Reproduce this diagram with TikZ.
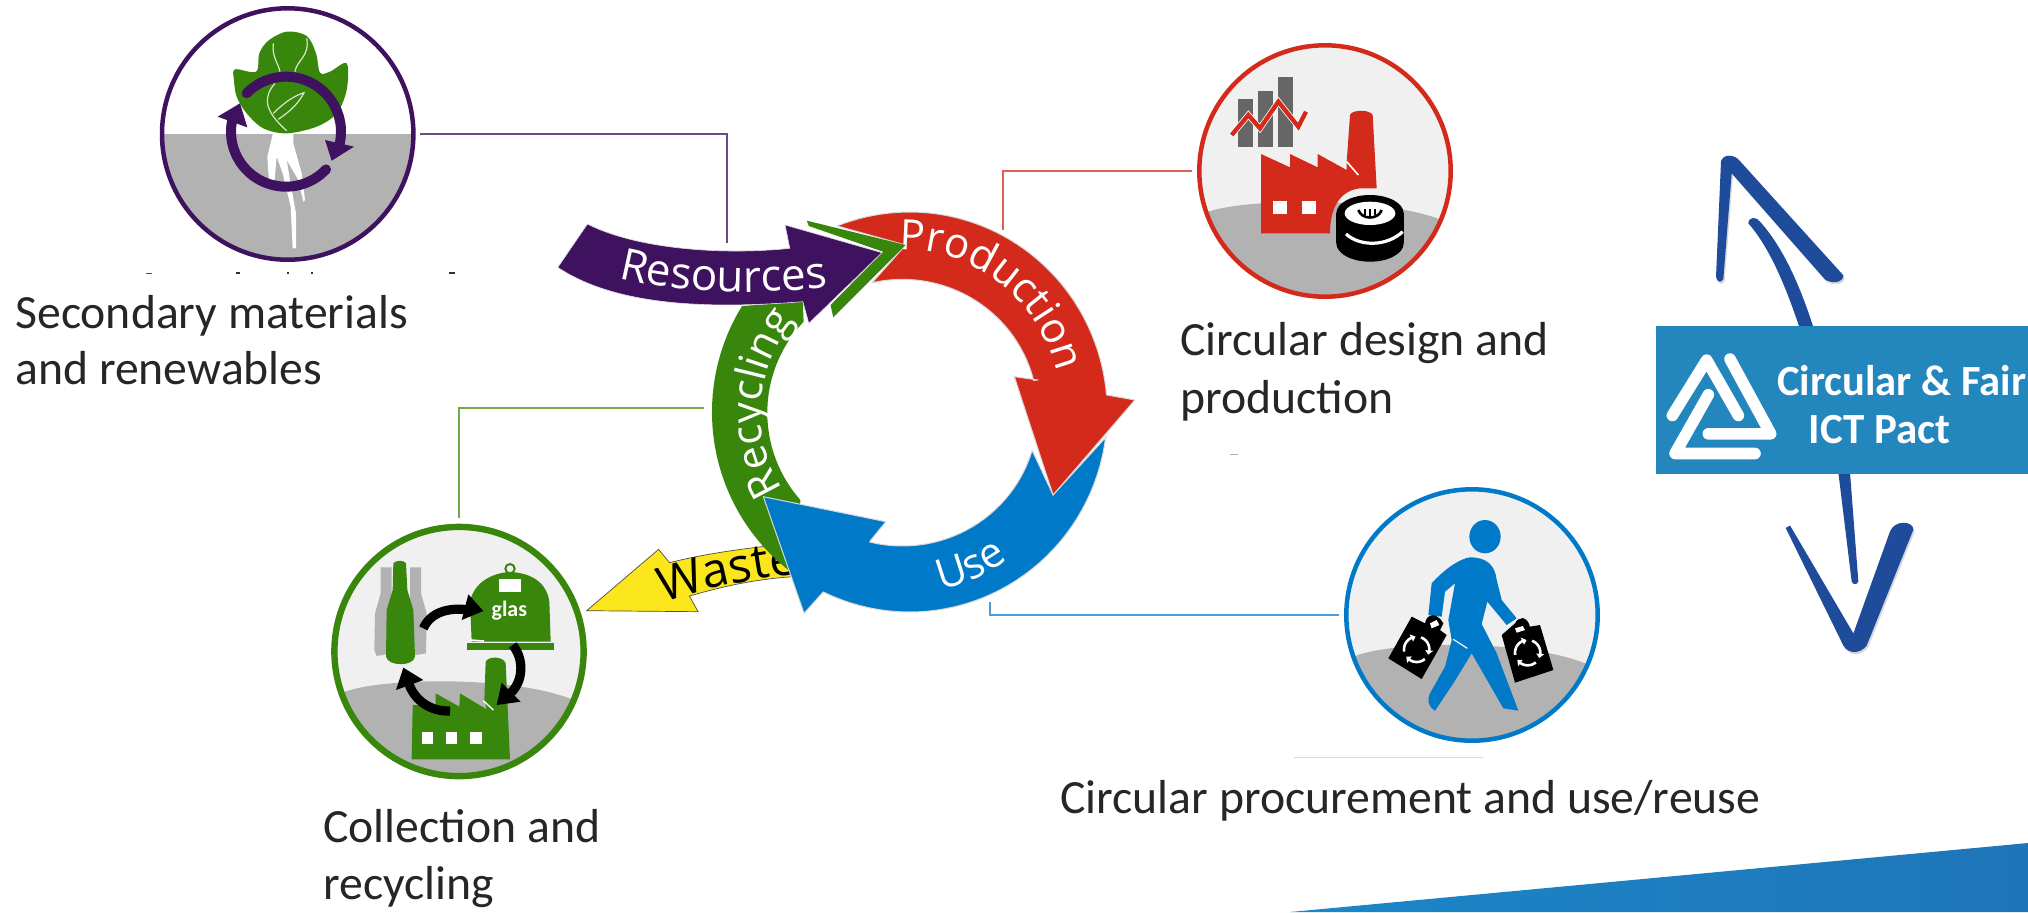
\documentclass[tikz,border=0pt]{standalone}
\usepackage{fontspec}
\usepackage{graphicx}
\setmainfont{Carlito}
\newfontfamily\ringfont{Open Sans}
\usetikzlibrary{decorations.text}
\definecolor{cpurple}{HTML}{3F1260}
\definecolor{cred}{HTML}{D42A1C}
\definecolor{cgreen}{HTML}{38860B}
\definecolor{cblue}{HTML}{0079C8}
\definecolor{cyellow}{HTML}{FBE61C}
\definecolor{lpurple}{HTML}{6B4A8A}
\definecolor{lred}{HTML}{E0604F}
\definecolor{lgreen}{HTML}{6FAA4A}
\definecolor{lblue}{HTML}{4F9BD8}
\definecolor{soil}{HTML}{B2B2B2}
\definecolor{sky}{HTML}{F0F0F0}
\definecolor{bars}{HTML}{666666}
\definecolor{banner}{HTML}{2386BD}
\definecolor{navy}{HTML}{1E4C9A}
\definecolor{swooshl}{HTML}{1A87C8}
\definecolor{swooshr}{HTML}{1F75B8}
\newcommand\ringlabel{\fontsize{21}{21}\ringfont\color{white}}
\newcommand\ringlabelbig{\fontsize{22}{22}\ringfont\color{white}}
\newcommand\wastelabel{\fontsize{24}{24}\ringfont\color{black}}
\tikzset{
  thrice/.style={x=.16667pt,y=-.16667pt},
  ringzoom/.style={x=.19763pt,y=-.16667pt},
  bannerzoom/.style={x=.16667pt,y=-.17301pt},
  iconring/.style={circle,draw=#1,line width=2.25pt,minimum size=125.7pt,inner sep=0pt,outer sep=0pt},
  conn/.style={draw=#1,line width=1.2pt},
  caption/.style={anchor=base west,inner sep=0pt,font=\fontsize{23.85}{23.85}\selectfont,text=black!85},
  thickarc/.style={line width=#1,line cap=round},
  edge/.style={draw=white!85!black,line width=.5pt,line join=round},
  logostroke/.style={white,line width=5.8pt,line cap=round,line join=round},
}
\begin{document}
\begin{tikzpicture}[x=.5pt,y=-.5pt]
\useasboundingbox (0,0) rectangle (2028,912);
\fill[white] (0,0) rectangle (2028,912);

% swoosh
\shade[left color=swooshl,right color=swooshr] (1290,912) -- (2028,843) -- (2028,912) -- cycle;

% ---------- purple icon
\fill[white] (287.7,134) circle[radius=125];
\begin{scope}
\clip (287.7,134) circle[radius=125];
\fill[soil] (130,134) rectangle (450,270);
\end{scope}
\begin{scope}[shift={(130,0)},thrice]
 \fill[white] (430,395) -- (412,470) -- (418,560) -- (432,560) -- (440,470) -- (458,520) -- (482,620) -- (488,745) -- (498,745) -- (498,640) -- (480,540) -- (470,480) -- (505,540) -- (520,605) -- (525,600) -- (515,520) -- (490,430) -- (490,395) -- cycle;
 \fill[cgreen] plot[smooth cycle,tension=.55] coordinates {(315,208) (378,215) (388,160) (415,122) (470,95) (530,108) (558,160) (570,218) (600,215) (650,190) (650,270) (620,340) (560,380) (470,400) (400,385) (350,340) (320,290) (312,240)};
 \draw[white!80!cgreen,line width=.6pt] (430,130) .. controls (425,170) and (445,190) .. (450,215);
 \draw[white!80!cgreen,line width=.6pt] (530,115) .. controls (540,170) and (500,180) .. (495,215);
 \draw[white!80!cgreen,line width=.6pt] (435,250) .. controls (400,290) and (400,330) .. (470,392);
 \draw[white!80!cgreen,line width=.6pt] (430,340) .. controls (470,300) and (500,285) .. (522,278) .. controls (500,320) and (470,340) .. (445,358);
 \draw[cpurple,thickarc=5pt] plot[domain=-135.7:14,samples=40] ({468+165*cos(\x)},{395+165*sin(\x)});
 \draw[cpurple,thickarc=5pt] plot[domain=43.3:196,samples=40] ({468+165*cos(\x)},{395+165*sin(\x)});
 \fill[cpurple] (672,440) -- (605,482) -- (585,420) -- cycle;
 \fill[cpurple] (263,350) -- (330,310) -- (352,382) -- cycle;
\end{scope}
\node[iconring=cpurple] (secondary) at (287.7,134) {};

% ---------- red icon
\begin{scope}
\clip (1325,171) circle[radius=125];
\fill[sky] (1325,171) circle[radius=125];
\begin{scope}[shift={(1180,30)},thrice]
 \fill[soil] (0,900) -- (0,600) -- (85,545) .. controls (200,505) and (600,500) .. (780,568) -- (900,620) -- (900,900) -- cycle;
 \fill[bars] (175,208) rectangle (218,350);
 \fill[bars] (235,183) rectangle (280,350);
 \fill[bars] (295,140) rectangle (340,350);
 \draw[white,line width=3pt,line join=miter] (155,315) -- (205,255) -- (240,295) -- (295,215) -- (355,290) -- (378,245);
 \draw[cred,line width=2.2pt,line join=miter] (155,315) -- (205,255) -- (240,295) -- (295,215) -- (355,290) -- (378,245);
 \fill[cred] (243,610) -- (243,372) -- (330,412) -- (330,372) -- (413,412) -- (413,372) -- (500,420) -- (500,395) -- (510,255) .. controls (515,238) and (570,238) .. (578,255) -- (590,475) -- (540,475) .. controls (490,480) and (450,520) .. (450,610) -- cycle;
 \draw[white,line width=.8pt] (500,395) -- (535,435);
 \fill[white] (278,512) rectangle (322,552);
 \fill[white] (365,512) rectangle (408,552);
 \fill[black] (469,550) rectangle (671,640);
 \fill[black] (570,640) circle[x radius=101,y radius=55];
 \fill[black] (570,550) circle[x radius=101,y radius=55];
 \fill[white] (570,550) circle[x radius=76,y radius=35];
 \draw[white,line width=1.6pt] (498,612) .. controls (540,650) and (620,650) .. (668,605);
 \draw[black,line width=1.3pt] (535,540) .. controls (545,570) and (595,570) .. (605,540);
 \draw[black,line width=1pt] (555,538) -- (555,556) (570,538) -- (570,560) (585,538) -- (585,556);
\end{scope}
\end{scope}
\node[iconring=cred] (design) at (1325,171) {};

% ---------- green icon
\begin{scope}
\clip (459,651.5) circle[radius=125];
\fill[sky] (459,651.5) circle[radius=125];
\begin{scope}[shift={(320,510)},thrice]
 \fill[soil] (0,900) -- (0,600) -- (75,545) .. controls (200,500) and (600,500) .. (760,570) -- (900,620) -- (900,900) -- cycle;
 \fill[soil] (182,172) -- (215,172) -- (215,430) -- (170,438) -- (163,420) -- (165,310) -- (182,250) -- cycle;
 \fill[soil] (270,172) -- (303,172) -- (303,250) -- (320,310) -- (318,430) -- (270,438) -- cycle;
 \fill[cgreen] (220,160) .. controls (225,150) and (255,150) .. (258,160) -- (262,240) -- (280,300) -- (285,440) .. controls (280,470) and (205,470) .. (198,440) -- (200,300) -- (218,240) -- cycle;
 \fill[cgreen] (455,395) -- (450,275) .. controls (462,215) and (520,188) .. (570,186) .. controls (630,188) and (680,215) .. (688,275) -- (692,395) -- cycle;
 \fill[cgreen] (440,398) rectangle (702,420);
 \draw[white,line width=.8pt] (450,390) -- (492,393);
 \draw[cgreen,line width=1pt] (570,176) circle[radius=14];
 \fill[white] (538,207) rectangle (602,247);
 \node[inner sep=0pt,text=white,font=\bfseries\fontsize{11}{11}\selectfont] (glas) at (568,302) {glas};
 \fill[cgreen] (275,748) -- (278,585) -- (347,585) -- (347,550) -- (418,590) -- (420,550) -- (500,598) -- (493,570) -- (497,455) .. controls (505,438) and (550,438) .. (557,460) -- (570,748) -- cycle;
 \draw[white,line width=.7pt] (490,572) -- (520,600);
 \fill[white] (305,665) rectangle (340,702);
 \fill[white] (377,665) rectangle (412,702);
 \fill[white] (450,665) rectangle (485,702);
 \draw[black,line width=4.6pt] (310,355) .. controls (330,310) and (380,290) .. (450,300);
 \fill[black] (490,303) -- (445,253) -- (425,330) -- cycle;
 \draw[black,line width=4.6pt] (578,405) .. controls (615,450) and (610,520) .. (565,555);
 \fill[black] (530,585) -- (602,575) -- (545,518) -- cycle;
 \draw[black,line width=4.6pt] (390,603) .. controls (330,605) and (285,570) .. (268,525);
 \fill[black] (250,473) -- (228,540) -- (310,510) -- cycle;
\end{scope}
\end{scope}
\node[iconring=cgreen,line width=3.2pt,minimum size=124.6pt] (collection) at (459,651.5) {};

% ---------- blue icon
\begin{scope}
\clip (1472,615) circle[radius=125];
\fill[sky] (1472,615) circle[radius=125];
\begin{scope}[shift={(1330,480)},thrice]
 \fill[soil] (0,900) -- (0,600) -- (75,528) .. controls (200,480) and (600,480) .. (770,552) -- (900,620) -- (900,900) -- cycle;
 \fill[cblue] (465,170) circle[x radius=47,y radius=50];
 \fill[cblue] (295,405) -- (305,310) .. controls (340,270) and (390,235) .. (420,232) .. controls (470,232) and (495,255) .. (500,300) -- (515,360) -- (560,415) -- (530,435) -- (472,365) -- (455,432) -- (500,520) -- (565,692) -- (520,685) -- (425,520) -- (370,610) -- (315,692) .. controls (295,680) and (290,660) .. (300,640) -- (345,560) -- (365,480) -- (355,420) -- (375,310) -- (345,335) -- (335,410) -- cycle;
 \draw[white,line width=.6pt] (370,478) -- (412,505);
 \fill[black] (175,535) -- (245,410) -- (285,430) .. controls (290,400) and (320,395) .. (340,430) -- (330,450) -- (350,465) -- (275,597) -- cycle;
 \fill[black] (515,465) -- (555,430) .. controls (565,410) and (590,405) .. (600,440) -- (630,435) -- (670,570) -- (555,608) -- cycle;
 \fill[white] (300,430) -- (320,420) -- (328,435) -- (305,445) -- cycle;
 \fill[white] (555,445) -- (578,438) -- (585,450) -- (560,458) -- cycle;
 \foreach \cx/\cy in {260/508,593/518}{
  \foreach \a in {-70,50,170}{
   \draw[white,line width=1.3pt] plot[domain=\a:\a+85,samples=10] ({\cx+38*cos(\x)},{\cy+38*sin(\x)});
   \fill[white] ({\cx+38*cos(\a+95)},{\cy+38*sin(\a+95)}) -- ({\cx+26*cos(\a+75)},{\cy+26*sin(\a+75)}) -- ({\cx+50*cos(\a+75)},{\cy+50*sin(\a+75)}) -- cycle;
  }
 }
\end{scope}
\end{scope}
\node[iconring=cblue] (procurement) at (1472,615) {};

% ---------- connector corners
\coordinate (resourcestop) at (727,243);
\coordinate (productiontop) at (1003,230);
\coordinate (recyclingleft) at (704,408);
\coordinate (usebottom) at (990,602);
\draw[conn=lpurple] ([xshift=3.5pt]secondary.east) -| (resourcestop);
\draw[conn=lred] ([xshift=-3.5pt]design.west) -| (productiontop);
\draw[conn=lgreen] (recyclingleft) -| ([yshift=4.5pt]collection.north);
\draw[conn=lblue] (usebottom) |- ([xshift=-3.5pt]procurement.west);

% ---------- central cycle
\begin{scope}[shift={(540,180)},ringzoom]
 % waste
 \filldraw[fill=cyellow,draw=black!70,line width=.35pt] (118,1292) -- (300,1108) -- (328,1148) .. controls (420,1120) and (520,1105) .. (620,1092) -- (640,1190) .. controls (540,1198) and (460,1220) .. (378,1248) -- (400,1295) -- cycle;
 \path[decorate,decoration={text along path,text={|\wastelabel|Waste},text align=left}] (312,1268) .. controls (412,1225) and (572,1185) .. (772,1165);
 % recycling
 \fill[cgreen] plot[domain=126:212,samples=30] ({935+500*cos(\x)},{696+600*sin(\x)}) -- (665,365) -- plot[domain=223:139,samples=30] ({917+342*cos(\x)},{698+400*sin(\x)}) -- cycle;
 % use
 \filldraw[fill=cblue,edge] (565,950) -- (875,1025) -- (835,1083) -- plot[domain=104:16.4,samples=30] ({917+342*cos(\x)},{698+400*sin(\x)}) -- (1298,945) -- (1433,770) -- plot[domain=7:115.9,samples=40] ({935+500*cos(\x)},{696+600*sin(\x)}) -- (668,1300) -- cycle;
 \path[decorate,decoration={text along path,text={|\ringlabel|Use},text align=center}] plot[domain=90:42,samples=30] ({920+450*cos(\x)},{698+545*sin(\x)});
 \path[decorate,decoration={text along path,text={|\ringlabel|Recycling},text align=center}] plot[domain=136:232,samples=40] ({917+358*cos(\x)},{698+429*sin(\x)});
 % production
 \filldraw[fill=cred,edge] plot[domain=-111.5:-4.9,samples=50] ({935+500*cos(\x)},{696+600*sin(\x)}) -- (1505,660) -- (1298,945) -- (1200,590) -- (1260,600) -- plot[domain=-14:-103,samples=40] ({917+342*cos(\x)},{698+400*sin(\x)}) -- (925,195) -- cycle;
 \path[decorate,decoration={text along path,text={|\ringlabel|Production},text align=center}] plot[domain=-100:-6,samples=50] ({920+400*cos(\x)},{698+490*sin(\x)});
 % chevron of the recycling arrow
 \fill[cgreen] (675,122) -- (925,195) -- (742,412) -- (735,375) -- (868,215) -- (680,138) -- cycle;
 % resources
 \filldraw[fill=cpurple,draw=white!85!cpurple,line width=.3pt] (120,132) .. controls (250,210) and (470,225) .. (632,205) -- (620,135) -- (865,218) -- (680,430) -- (665,365) .. controls (450,385) and (200,385) .. (45,262) -- cycle;
 \path[decorate,decoration={text along path,text={|\ringlabelbig|Resources},text align=center}] (100,255) .. controls (300,355) and (640,355) .. (830,295);
\end{scope}

% ---------- banner
\begin{scope}[shift={(1640,130)},bannerzoom]
 \begin{scope}[shift={(4,6)},opacity=.25]
 \fill[black!60] (228,425) -- (243,90) .. controls (250,68) and (285,70) .. (300,90) -- (610,420) .. controls (610,442) and (575,445) .. (555,432) -- (275,125) -- (250,430) .. controls (245,442) and (232,442) .. (228,425) -- cycle;
 \fill[black!60] (437,1150) -- (450,1143) -- (640,1455) -- (750,1160) .. controls (765,1125) and (820,1130) .. (820,1155) -- (680,1490) .. controls (660,1515) and (625,1515) .. (610,1490) -- cycle;
 \end{scope}
 \fill[navy] (228,425) -- (243,90) .. controls (250,68) and (285,70) .. (300,90) -- (610,420) .. controls (610,442) and (575,445) .. (555,432) -- (275,125) -- (250,430) .. controls (245,442) and (232,442) .. (228,425) -- cycle;
 \fill[navy] (325,270) .. controls (325,250) and (350,250) .. (360,265) .. controls (430,340) and (480,450) .. (520,570) -- (478,570) .. controls (440,460) and (390,340) .. (325,270) -- cycle;
 \fill[navy] (595,990) -- (630,990) -- (655,1305) .. controls (650,1315) and (640,1315) .. (635,1305) -- cycle;
 \fill[navy] (437,1150) -- (450,1143) -- (640,1455) -- (750,1160) .. controls (765,1125) and (820,1130) .. (820,1155) -- (680,1490) .. controls (660,1515) and (625,1515) .. (610,1490) -- cycle;
 \fill[banner] (48,565) rectangle (1164,995);
 \draw[logostroke] (97,825) -- (200,665) -- (295,825);
 \draw[logostroke] (270,662) -- (392,878) -- (205,878);
 \draw[logostroke] (345,935) -- (105,935) -- (205,765);
 \node[anchor=base west,inner sep=0pt,text=white,font=\bfseries\fontsize{21.5}{21.5}\selectfont] (pactone) at (410,767) {\scalebox{.99}[1]{Circular \& Fair}};
 \node[anchor=base west,inner sep=0pt,text=white,font=\bfseries\fontsize{21.5}{21.5}\selectfont] (pacttwo) at (505,905) {ICT Pact};
\end{scope}

% ---------- captions
\node[caption] (cap1a) at (15,328) {Secondary materials};
\node[caption] (cap1b) at (15,384) {and renewables};
\node[caption] (cap2a) at (1180,355) {Circular design and};
\node[caption] (cap2b) at (1180,413) {production};
\node[caption] (cap3) at (1060,813) {Circular procurement and use/reuse};
\node[caption] (cap4a) at (323,842) {Collection and};
\node[caption] (cap4b) at (323,899) {recycling};

% ---------- clipped remnants
\fill[black!70] (146,272.5) rectangle (152,273.5);
\fill[black!80] (236,272) rectangle (240,274);
\fill[black!80] (287,272) rectangle (289,274);
\fill[black!80] (311,272) rectangle (313,274);
\fill[black!80] (449,272) rectangle (455,274);
\fill[black!30] (1230,454) rectangle (1238,455);
\fill[black!15] (1294,756.5) rectangle (1483,757.5);
\end{tikzpicture}
\end{document}
